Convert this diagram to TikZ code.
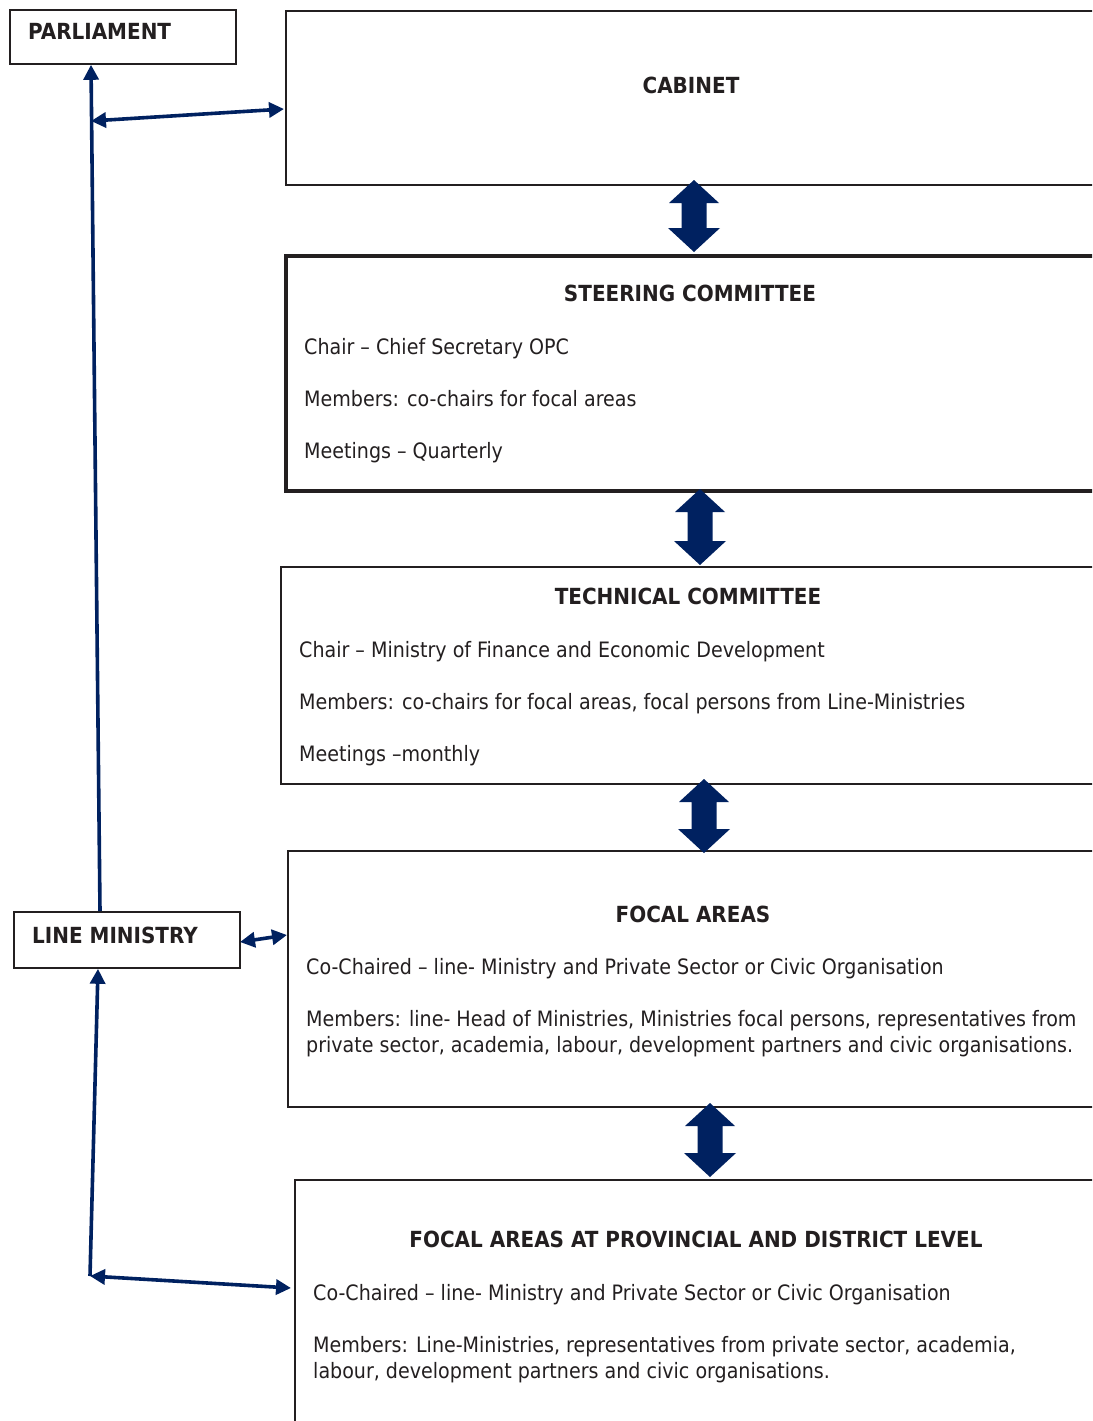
\documentclass[tikz,border=0pt]{standalone}
\usepackage{fontspec}
\setmainfont{DejaVu Sans Condensed}
\usetikzlibrary{arrows.meta}
\definecolor{navy}{RGB}{0,33,96}
\definecolor{ink}{RGB}{35,31,32}
\tikzset{
  box/.style={draw=ink, line width=1.8pt, fill=white, anchor=north west, inner sep=0pt},
  thickbox/.style={box, line width=4pt},
  txt/.style={anchor=base west, inner sep=0pt, text=ink, font=\fontsize{21.2}{26}\selectfont},
  ttl/.style={anchor=base, inner sep=0pt, text=ink, font=\fontsize{22.2}{26}\selectfont\bfseries},
  lbl/.style={anchor=base west, inner sep=0pt, text=ink, font=\fontsize{22.2}{26}\selectfont\bfseries},
  link/.style={draw=navy, line width=3.6pt, -{Triangle[length=15pt,width=15pt]}},
  blink/.style={draw=navy, line width=3.6pt, {Triangle[length=15pt,width=15pt]}-{Triangle[length=15pt,width=15pt]}},
}
\newcommand\blockarrow[3]{%
  \fill[navy] (#1,#2) -- (#1+25,#2+23) -- (#1+12.5,#2+23) -- (#1+12.5,#3-24) -- (#1+26,#3-24)
    -- (#1,#3) -- (#1-26,#3-24) -- (#1-12.5,#3-24) -- (#1-12.5,#2+23) -- (#1-25,#2+23) -- cycle;}
\begin{document}
\begin{tikzpicture}[x=1pt,y=-1pt]
\useasboundingbox (0,0) rectangle (1092,1421);
\clip (0,0) rectangle (1092,1421);
\fill[white] (0,0) rectangle (1092,1421);

% boxes
\node[box, minimum width=226pt, minimum height=54pt] (parl) at (9,9) {};
\node[lbl] (parlt) at (28,40) {PARLIAMENT};
\node[box, minimum width=812pt, minimum height=174pt] (cab) at (285,10) {};
\node[ttl] (cabt) at (691,93) {CABINET};

\node[thickbox, minimum width=812pt, minimum height=235pt] (steer) at (284,254) {};
\node[ttl] (steert) at (690,301) {STEERING COMMITTEE};
\node[txt] (s1) at (304,354) {Chair – Chief Secretary OPC};
\node[txt] (s2) at (304,406) {Members: co-chairs for focal areas};
\node[txt] (s3) at (304,458) {Meetings – Quarterly};

\node[box, minimum width=816pt, minimum height=217pt] (tech) at (280,566) {};
\node[ttl] (techt) at (688,604) {TECHNICAL COMMITTEE};
\node[txt] (t1) at (299,657) {Chair – Ministry of Finance and Economic Development};
\node[txt] (t2) at (299,709) {Members: co-chairs for focal areas, focal persons from Line-Ministries};
\node[txt] (t3) at (299,761) {Meetings –monthly};

\node[box, minimum width=812pt, minimum height=256pt] (focal) at (287,850) {};
\node[ttl] (focalt) at (693,922) {FOCAL AREAS};
\node[txt] (f1) at (306,974) {Co-Chaired – line- Ministry and Private Sector or Civic Organisation};
\node[txt] (f2) at (306,1026) {Members: line- Head of Ministries, Ministries focal persons, representatives from};
\node[txt] (f3) at (306,1052) {private sector, academia, labour, development partners and civic organisations.};

\node[box, minimum width=806pt, minimum height=260pt] (prov) at (294,1179) {};
\node[ttl] (provt) at (696,1247) {FOCAL AREAS AT PROVINCIAL AND DISTRICT LEVEL};
\node[txt] (p1) at (313,1300) {Co-Chaired – line- Ministry and Private Sector or Civic Organisation};
\node[txt] (p2) at (313,1352) {Members: Line-Ministries, representatives from private sector, academia,};
\node[txt] (p3) at (313,1378) {labour, development partners and civic organisations.};

\node[box, minimum width=226pt, minimum height=56pt] (lm) at (13,911) {};
\node[lbl] (lmt) at (32,943) {LINE MINISTRY};

% block arrows
\blockarrow{694}{180}{252}
\blockarrow{700}{489}{565}
\blockarrow{704}{779}{853}
\blockarrow{710}{1103}{1177}

% connectors
\coordinate (ptop) at (91,121);
\coordinate (pbot) at (90,1276);
\coordinate (cabin) at (284,109);
\coordinate (provin) at (291,1288);
\coordinate (focin) at (287,935);
\coordinate (lmout) at (240,942);
\draw[link] (lm.north -| 100,0) -- (parl.south -| 91,0);
\draw[blink] (ptop) -- (cabin);
\draw[blink] (lmout) -- (focin);
\draw[link] (pbot) -- (lm.south -| 98,0);
\draw[blink] (pbot) -- (provin);
\end{tikzpicture}
\end{document}
